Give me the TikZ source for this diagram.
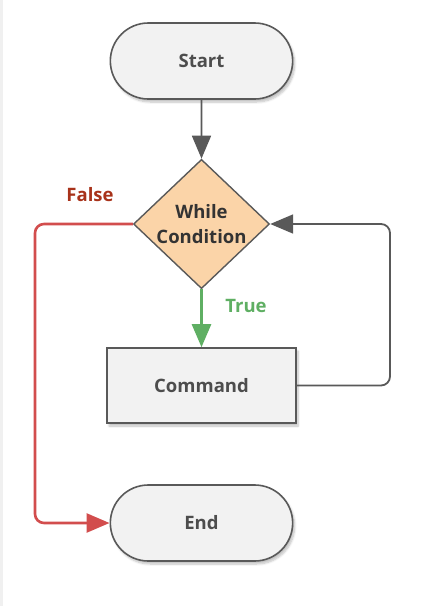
\documentclass[tikz,border=0pt]{standalone}
\usepackage{fontspec}
\setmainfont{Open Sans}
\usepackage{xcolor}
\usetikzlibrary{shapes.geometric,shapes.misc,arrows.meta,positioning,shadows.blur}
\definecolor{lineGray}{HTML}{595959}
\definecolor{txtGray}{HTML}{4D4D4D}
\definecolor{boxFill}{HTML}{F2F2F2}
\definecolor{condFill}{HTML}{FBD4A8}
\definecolor{falseRed}{HTML}{D24D4D}
\definecolor{falseTxt}{HTML}{A8321A}
\definecolor{trueGreen}{HTML}{5FAF63}
\tikzstyle{terminal}=[rounded rectangle, draw=lineGray, fill=boxFill, line width=1.6pt,
                       minimum width=189pt, minimum height=76pt, text=txtGray,
                       blur shadow={shadow xshift=2pt, shadow yshift=-3pt, shadow opacity=25, shadow blur steps=6}]
\tikzstyle{command} =[rectangle, draw=lineGray, fill=boxFill, line width=1.6pt,
                       minimum width=189pt, minimum height=75pt, text=txtGray,
                       blur shadow={shadow xshift=2pt, shadow yshift=-3pt, shadow opacity=25, shadow blur steps=6}]
\tikzstyle{decision}=[diamond, draw=lineGray, fill=condFill, line width=1.4pt, inner sep=0pt,
                       minimum width=136pt, minimum height=124pt, text=black!80, align=center]
\tikzstyle{arr}     =[-{Triangle[length=23pt,width=19pt]}, line width=1.8pt]

\begin{document}
\begin{tikzpicture}[x=1pt, y=-1pt, every node/.style={font=\fontsize{18.5}{25}\selectfont\bfseries}]

  \useasboundingbox (0,0) rectangle (431,606);
  \fill[black!6] (0,0) rectangle (2.5,606);

  % ── nodes ──────────────────────────────────────────────────────────────────
  \node[terminal] (start) at (201.5, 61)  {Start};
  \node[decision] (cond)  at (201.5, 224) {While\\Condition};
  \node[command]  (cmd)   at (201.5, 385.5) {Command};
  \node[terminal] (end)   at (201.5, 523) {End};

  % ── labels ─────────────────────────────────────────────────────────────────
  \node[text=falseTxt]  (flabel) at (90, 195)  {False};
  \node[text=trueGreen] (tlabel) at (246, 306) {True};

  % ── flow ───────────────────────────────────────────────────────────────────
  \draw[arr, lineGray] (start) -- (cond);
  \draw[arr, trueGreen, line width=2.6pt] (cond.south) -- (cmd.north);

  % ── false branch (left of all nodes) ───────────────────────────────────────
  \coordinate (fbend) at (35, 523);
  \draw[arr, falseRed, line width=2.6pt, rounded corners=9pt]
    (cond.west) -| (fbend) -- (end.west);

  % ── loop back (right of all nodes) ─────────────────────────────────────────
  \coordinate (lbend) at (390, 224);
  \draw[arr, lineGray, rounded corners=9pt]
    (cmd.east) -| (lbend) -- (cond.east);

\end{tikzpicture}
\end{document}
